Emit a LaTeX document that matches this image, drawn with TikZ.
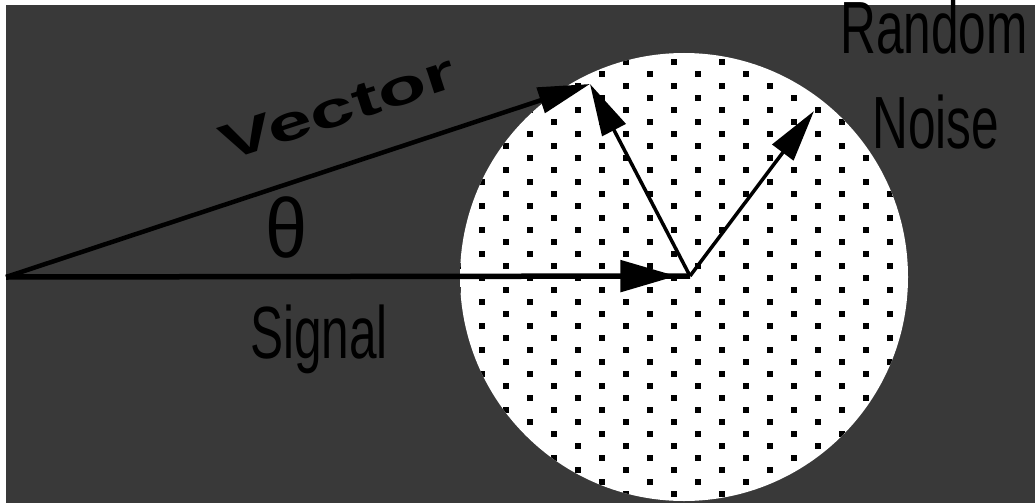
\documentclass[tikz,border=0pt]{standalone}
\usepackage{fontspec}
\setmainfont{Liberation Sans}
\usetikzlibrary{arrows.meta,decorations.markings}

\definecolor{bggray}{HTML}{393939}

\tikzset{
  lbl/.style={inner sep=0pt,text=black},
  sigline/.style={line width=5.5pt},
  vecline/.style={line width=4.5pt},
  noiseline/.style={line width=3.5pt},
  >={Triangle[length=52pt,width=26pt]}
}

\begin{document}
\begin{tikzpicture}[x=1pt,y=-1pt,font=\fontsize{74}{74}\selectfont]
  % frame and dark background
  \fill[white] (0,0) rectangle (1035,503);
  \fill[bggray] (6,5) rectangle (1035,503);
  \useasboundingbox (0,0) rectangle (1035,503);

  % dotted noise disc
  \fill[white] (684,277) circle[radius=224pt];
  \begin{scope}
    \clip (684,277) circle[radius=224pt];
    \foreach \r in {0,...,19} {
      \foreach \c in {9,...,19} {
        \fill (48*\c-1.5,38+24*\r-3) rectangle ++(6,6);
        \fill (48*\c+22.5,50+24*\r-3) rectangle ++(6,6);
      }
    }
  \end{scope}

  % end points
  \coordinate (origin) at (6,277);
  \coordinate (sigtip) at (690,276);
  \coordinate (vectip) at (590,84);
  \coordinate (noisetip) at (814,111);

  % vectors
  \draw[sigline,postaction={decorate},decoration={markings,
      mark=at position 0.98 with {\arrow{Triangle[length=56pt,width=31pt]}}}]
    (origin) -- (sigtip);
  \draw[vecline,->] (origin) -- (vectip);
  \draw[noiseline,->] (sigtip) -- (vectip);
  \draw[noiseline,->] (sigtip) -- (noisetip);

  % labels
  \node[lbl,anchor=base west] (randomlbl) at (840,53) {\scalebox{0.67}[1]{Random}};
  \node[lbl,anchor=base west] (noiselbl) at (872,148) {\scalebox{0.67}[1]{Noise}};
  \node[lbl,anchor=base west] (signallbl) at (250,358) {\scalebox{0.67}[1]{Signal}};
  \node[lbl,font=\fontsize{84}{84}\selectfont] (thetalbl) at (287,227) {\scalebox{0.9}[1]{θ}};
  \node[lbl,rotate=18,font=\bfseries\fontsize{50}{50}\selectfont] (vectorlbl)
    at (338,108) {\scalebox{1.6}[1]{Vector}};
\end{tikzpicture}
\end{document}
